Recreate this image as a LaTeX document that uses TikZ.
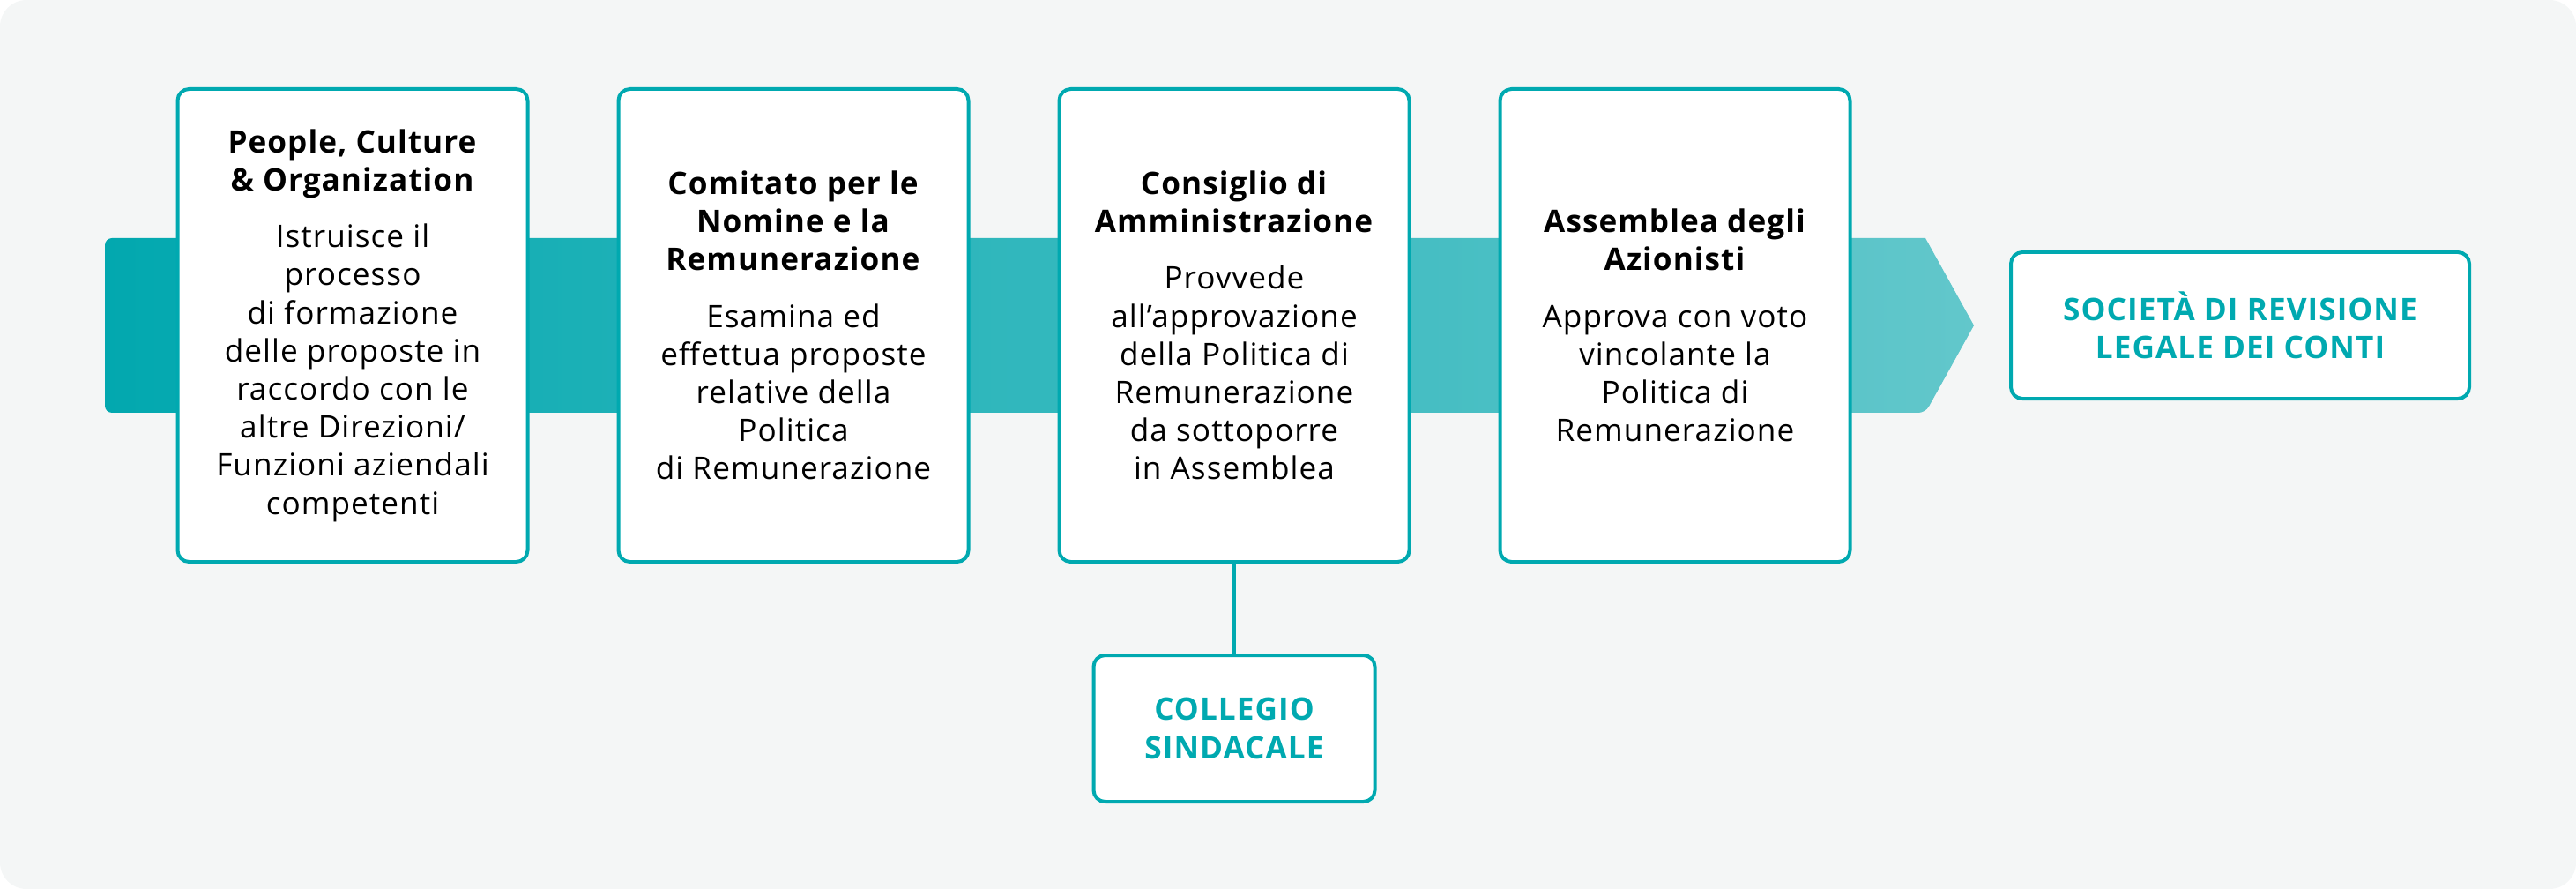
\documentclass[tikz,border=0pt]{standalone}
\usepackage{fontspec}
\setmainfont{Open Sans}[LetterSpace=3]
\usepackage{xcolor}
\usepackage{tikz}
\usetikzlibrary{positioning}
\definecolor{tealline}{HTML}{00A9B0}
\definecolor{bandleft}{HTML}{02A8AF}
\definecolor{bandright}{HTML}{62C7CB}
\definecolor{pagebg}{HTML}{F4F6F6}

\begin{document}
\begin{tikzpicture}[
  stage/.style={draw=tealline,line width=0.04cm,fill=white,rounded corners=0.13cm,
    minimum width=3.97cm,minimum height=5.36cm,inner sep=0pt,align=center,
    font=\fontsize{10}{12.3}\selectfont},
  organ/.style={draw=tealline,line width=0.04cm,fill=white,rounded corners=0.13cm,
    minimum height=1.66cm,inner sep=0pt,align=center,text=tealline,
    font=\fontsize{10}{12.3}\selectfont\bfseries}]
  \useasboundingbox (0,0) rectangle (29.22,-10.08);
  \fill[pagebg,rounded corners=0.3cm] (0,0) rectangle (29.22,-10.08);
  \coordinate (tip) at (22.39,-3.69);
  \shade[left color=bandleft,right color=bandright,rounded corners=0.08cm]
    (21.84,-2.70) -- (1.19,-2.70) -- (1.19,-4.68) -- (21.84,-4.68) [sharp corners] -- (tip) -- cycle;
  \node[stage] (pco) at (4,-3.69) {\textbf{People, Culture}\\\textbf{\& Organization}\\[0.21cm]
    Istruisce il\\processo\\di formazione\\delle proposte in\\raccordo con le\\altre Direzioni/\\Funzioni aziendali\\competenti};
  \node[stage] (cnr) at (9,-3.69) {\textbf{Comitato per le}\\\textbf{Nomine e la}\\\textbf{Remunerazione}\\[0.21cm]
    Esamina ed\\effettua proposte\\relative della\\Politica\\di Remunerazione};
  \node[stage] (cda) at (14,-3.69) {\textbf{Consiglio di}\\\textbf{Amministrazione}\\[0.21cm]
    Provvede\\all’approvazione\\della Politica di\\Remunerazione\\da sottoporre\\in Assemblea};
  \node[stage] (ada) at (19,-3.69) {\textbf{Assemblea degli}\\\textbf{Azionisti}\\[0.21cm]
    Approva con voto\\vincolante la\\Politica di\\Remunerazione};
  \node[organ,minimum width=5.20cm,right=0.40cm of tip] (sdr) {SOCIETÀ DI REVISIONE\\LEGALE DEI CONTI};
  \node[organ,minimum width=3.19cm,below=1.02cm of cda] (cs) {COLLEGIO\\SINDACALE};
  \draw[tealline,line width=0.04cm] (cda.south) -- (cs.north);
\end{tikzpicture}
\end{document}
